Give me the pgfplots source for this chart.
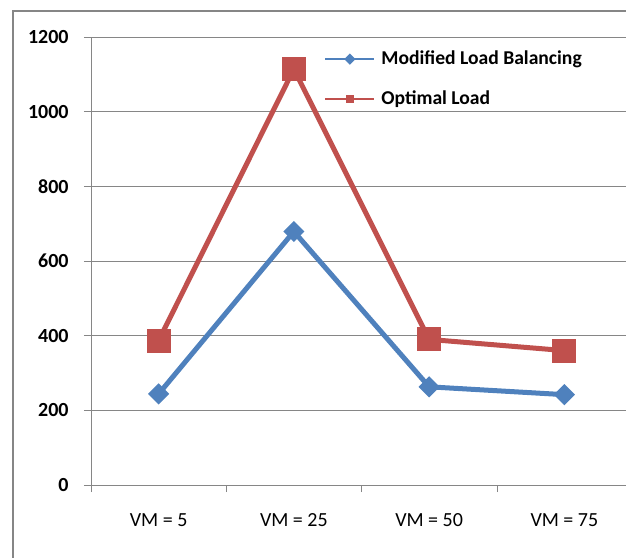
\documentclass[border=0pt]{standalone}
\usepackage{pgfplots}
\pgfplotsset{compat=1.18}
\usepackage{fontspec}
\setmainfont{Carlito}
\definecolor{mlb}{HTML}{4F81BD}
\definecolor{opt}{HTML}{C0504D}
\definecolor{axgray}{HTML}{868686}

\begin{document}
\begin{tikzpicture}[font=\fontsize{10pt}{12pt}\selectfont]
% page: 626x557 px, 1px = 0.5pt
\path[use as bounding box] (0,0) rectangle (313pt,-278.5pt);
\draw[axgray, line width=1pt] (6.5pt,-5.5pt) rectangle (340pt,-300pt);
\begin{axis}[
    at={(45.5pt,-242.5pt)}, anchor=south west,
    scale only axis,
    width=270.5pt, height=224pt,
    xmin=-0.5, xmax=3.5,
    ymin=0, ymax=1200,
    ytick={0,200,...,1200},
    xtick={0,1,2,3},
    xticklabels={VM = 5, VM = 25, VM = 50, VM = 75},
    extra x ticks={-0.5,0.5,1.5,2.5,3.5},
    extra x tick labels={},
    extra x tick style={grid=none, xtick style={draw=axgray}},
    xtick style={draw=none},
    ytick style={draw=axgray},
    major tick length=3.5pt,
    tick align=outside,
    axis x line*=bottom, axis y line*=left,
    axis line style={draw=axgray, line width=0.5pt, -},
    ymajorgrids,
    grid style={axgray, line width=0.5pt},
    /pgf/number format/assume math mode=true,
    /pgf/number format/1000 sep={},
    yticklabel style={font=\fontsize{10pt}{12pt}\selectfont\bfseries, inner sep=0pt, xshift=-7.5pt},
    xticklabel style={inner sep=0pt, anchor=north, yshift=-10.5pt},
    legend style={draw=none, fill=none, at={(0.4307,0.906)}, anchor=west,
        inner sep=0pt, column sep=3pt, row sep=11pt,
        font=\fontsize{9.8pt}{12pt}\selectfont\bfseries,
        nodes={inner sep=0pt, text height=7pt, text depth=2pt}},
    legend cell align=left,
    legend image code/.code={%
        \draw[#1, line width=1pt, mark repeat=2, mark phase=2, mark size=\legmark]
            plot coordinates {(0pt,0pt) (12.25pt,0pt) (24.5pt,0pt)};},
]
\def\legmark{1.5pt}
\addplot[color=mlb, line width=2.5pt, mark=square*, mark size=2.5pt,
    mark options={rotate=45, solid, fill=mlb}]
    coordinates {(0,244) (1,679) (2,263) (3,242)};
\addlegendentry{Modified Load Balancing}
\addplot[color=opt, line width=2.5pt, mark=square*, mark size=4.75pt,
    mark options={solid, fill=opt}]
    coordinates {(0,387) (1,1114) (2,390) (3,360)};
\addlegendentry{Optimal Load}
\end{axis}
\end{tikzpicture}
\end{document}
